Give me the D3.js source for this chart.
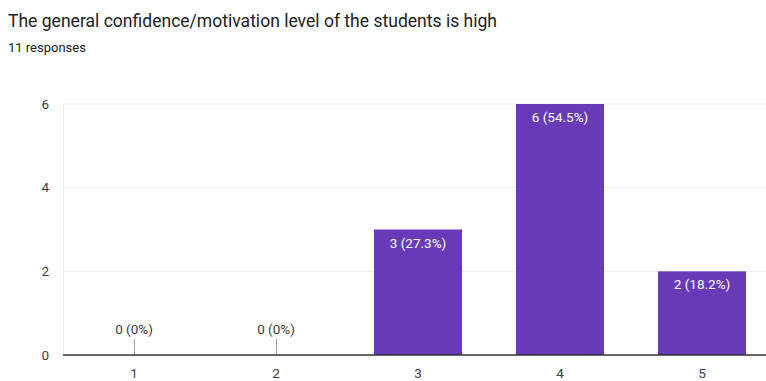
<!DOCTYPE html>
<html>
<head>
<meta charset="utf-8">
<script src="https://cdn.jsdelivr.net/npm/d3@7"></script>
<style>
  html, body { margin: 0; padding: 0; background: #fff; }
  svg { display: block; font-family: Roboto, "Liberation Sans", Arial, sans-serif; }
</style>
</head>
<body>
<svg id="chart" width="766" height="381"></svg>
<script>
// Survey answers on a 1–5 scale
const categories = ["1", "2", "3", "4", "5"];
const counts = [0, 0, 3, 6, 2];
const percents = ["0%", "0%", "27.3%", "54.5%", "18.2%"];
const yTicks = [0, 2, 4, 6];
const titleText = "The general confidence/motivation level of the students is high";
const subtitleText = "11 responses";

const svg = d3.select("#chart");
const margin = { left: 63, right: -7, top: 104, bottom: 26 };
const W = 766, H = 381;
const labelFont = "Roboto, 'Liberation Sans', Arial, sans-serif";

const x = d3.scaleBand()
  .domain(categories)
  .range([margin.left, W - margin.right])
  .paddingInner(0.38)
  .paddingOuter(0.19);

const y = d3.scaleLinear()
  .domain([0, 6])
  .range([H - margin.bottom, margin.top]);

// Heading
svg.append("text")
  .attr("x", 8).attr("y", 27)
  .attr("font-size", 19).attr("fill", "#202124")
  .attr("textLength", 489).attr("lengthAdjust", "spacingAndGlyphs")
  .text(titleText);
svg.append("text")
  .attr("x", 8).attr("y", 52)
  .attr("font-size", 13).attr("fill", "#202124")
  .text(subtitleText);

// Horizontal gridlines
svg.append("g")
  .selectAll("line")
  .data(yTicks.filter(d => d > 0))
  .join("line")
  .attr("x1", margin.left).attr("x2", W)
  .attr("y1", d => y(d)).attr("y2", d => y(d))
  .attr("stroke", "#ebebeb").attr("stroke-width", 1);

// Left edge of the plot area
svg.append("line")
  .attr("x1", margin.left + 0.5).attr("x2", margin.left + 0.5)
  .attr("y1", y(6)).attr("y2", y(0))
  .attr("stroke", "#ebebeb");

// Y axis labels
const yAxis = d3.axisLeft(y).tickValues(yTicks).tickFormat(d3.format("d")).tickSize(0).tickPadding(14);
const gy = svg.append("g")
  .attr("transform", `translate(${margin.left},0)`)
  .call(yAxis);
gy.select(".domain").remove();
gy.selectAll("text")
  .attr("font-size", 13.5).attr("fill", "#3c4043")
  .attr("font-family", labelFont);

// Bars
const data = categories.map((c, i) => ({ c, v: counts[i], p: percents[i] }));
svg.append("g")
  .selectAll("rect")
  .data(data.filter(d => d.v > 0))
  .join("rect")
  .attr("x", d => x(d.c))
  .attr("width", x.bandwidth())
  .attr("y", d => y(d.v))
  .attr("height", d => y(0) - y(d.v))
  .attr("fill", "#673ab7");

// Stems marking zero-count answers
svg.append("g")
  .selectAll("line")
  .data(data.filter(d => d.v === 0))
  .join("line")
  .attr("x1", d => x(d.c) + x.bandwidth() / 2 + 0.5)
  .attr("x2", d => x(d.c) + x.bandwidth() / 2 + 0.5)
  .attr("y1", y(0) - 16).attr("y2", y(0))
  .attr("stroke", "#9e9e9e").attr("stroke-width", 1);

// Value labels
svg.append("g")
  .selectAll("text")
  .data(data)
  .join("text")
  .attr("x", d => x(d.c) + x.bandwidth() / 2)
  .attr("y", d => d.v > 0 ? y(d.v) + 18 : y(0) - 21)
  .attr("text-anchor", "middle")
  .attr("font-size", 13.5)
  .attr("fill", d => d.v > 0 ? "#ffffff" : "#3c4043")
  .text(d => `${d.v} (${d.p})`);

// Baseline
svg.append("line")
  .attr("x1", margin.left).attr("x2", W)
  .attr("y1", y(0)).attr("y2", y(0))
  .attr("stroke", "#333").attr("stroke-width", 1.3);

// X axis labels
const xAxis = d3.axisBottom(x).tickSize(0).tickPadding(13);
const gx = svg.append("g")
  .attr("transform", `translate(0,${y(0)})`)
  .call(xAxis);
gx.select(".domain").remove();
gx.selectAll("text")
  .attr("font-size", 13.5).attr("fill", "#3c4043")
  .attr("font-family", labelFont);
</script>
</body>
</html>
